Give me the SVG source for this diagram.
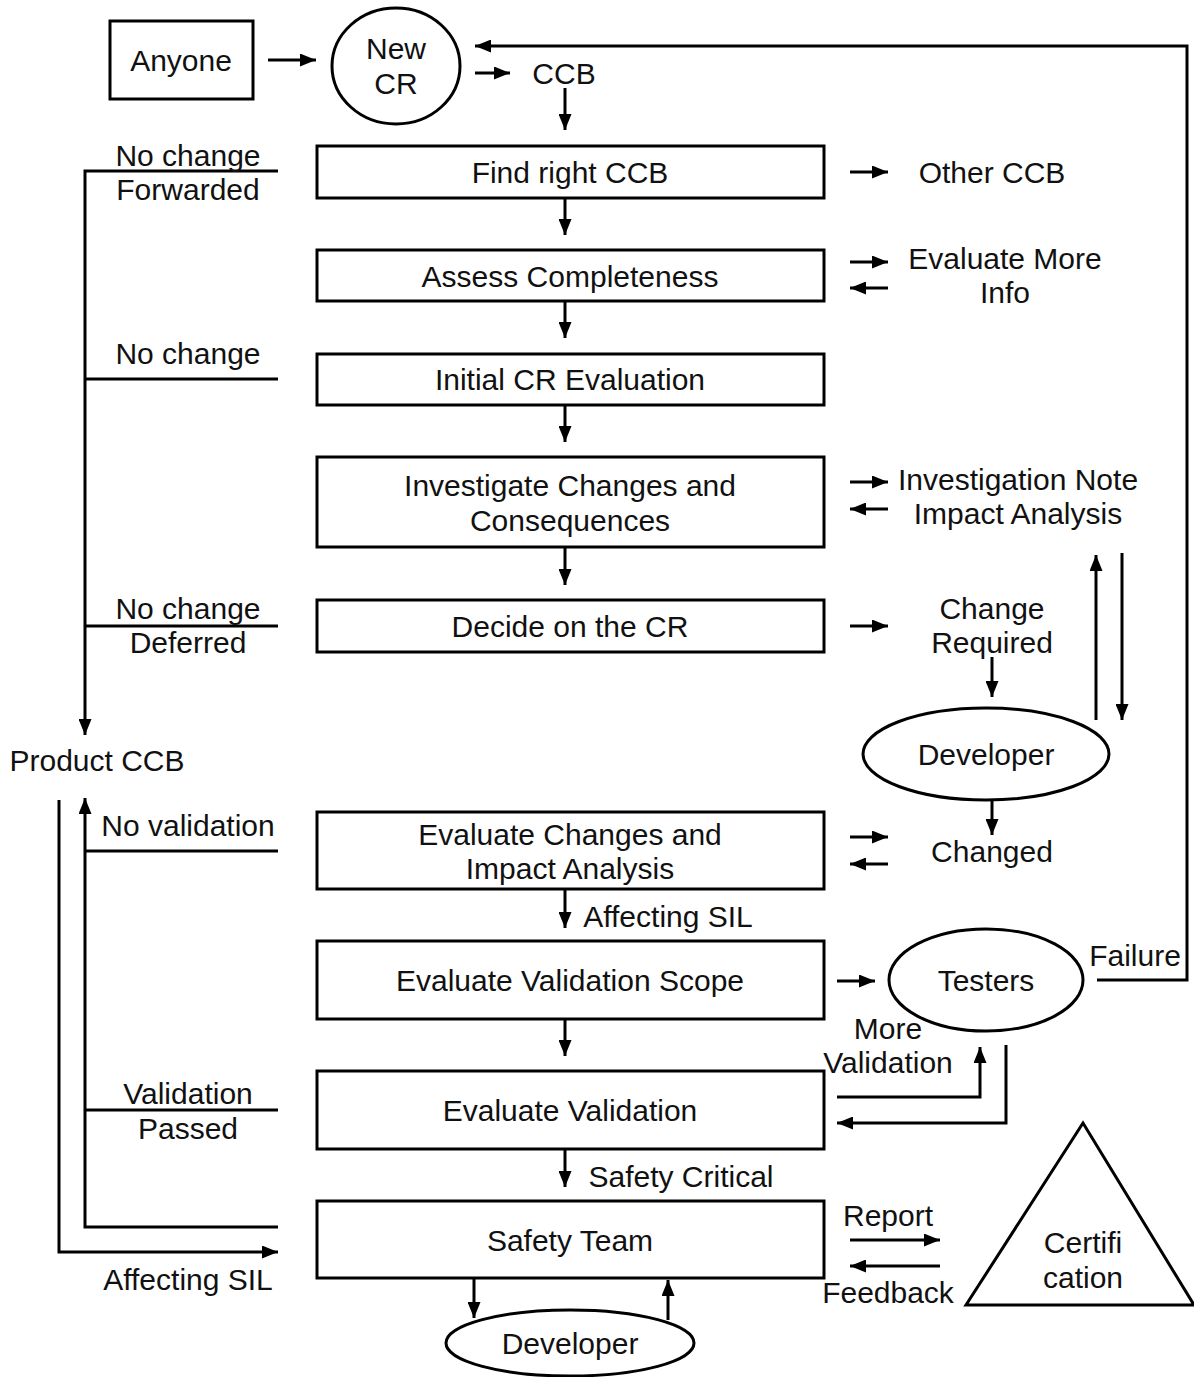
<svg xmlns="http://www.w3.org/2000/svg" width="1194" height="1377" viewBox="0 0 1194 1377">
<style>
.n{fill:#fff;stroke:#000;stroke-width:3}
.c{fill:none;stroke:#000;stroke-width:3}
text{font-family:"Liberation Sans",Arial,sans-serif;font-size:30px;fill:#111;text-anchor:middle;dominant-baseline:central}
</style>
<defs>
<marker id="a" viewBox="0 0 16 13" refX="16" refY="6.5" markerWidth="16" markerHeight="13" markerUnits="userSpaceOnUse" orient="auto">
<path d="M0,0L16,6.5L0,13z" fill="#000"/>
</marker>
</defs>
<rect width="1194" height="1377" fill="#fff"/>
<g id="anyone"><rect class="n" x="110" y="21" width="143" height="78"/><text x="181" y="60">Anyone</text></g>
<g id="newcr"><ellipse class="n" cx="396" cy="66" rx="64" ry="58"/><text x="396" y="48">New</text><text x="396" y="83">CR</text></g>
<g id="ccb"><text x="564" y="73">CCB</text></g>
<g id="findccb"><rect class="n" x="317" y="146" width="507" height="52"/><text x="570" y="172">Find right CCB</text></g>
<g id="assess"><rect class="n" x="317" y="250" width="507" height="51"/><text x="570" y="276">Assess Completeness</text></g>
<g id="initial"><rect class="n" x="317" y="354" width="507" height="51"/><text x="570" y="379">Initial CR Evaluation</text></g>
<g id="investigate"><rect class="n" x="317" y="457" width="507" height="90"/><text x="570" y="485">Investigate Changes and</text><text x="570" y="520">Consequences</text></g>
<g id="decide"><rect class="n" x="317" y="600" width="507" height="52"/><text x="570" y="626">Decide on the CR</text></g>
<g id="evalchanges"><rect class="n" x="317" y="812" width="507" height="77"/><text x="570" y="834">Evaluate Changes and</text><text x="570" y="868">Impact Analysis</text></g>
<g id="evalscope"><rect class="n" x="317" y="941" width="507" height="78"/><text x="570" y="980">Evaluate Validation Scope</text></g>
<g id="evalvalid"><rect class="n" x="317" y="1071" width="507" height="78"/><text x="570" y="1110">Evaluate Validation</text></g>
<g id="safety"><rect class="n" x="317" y="1201" width="507" height="77"/><text x="570" y="1240">Safety Team</text></g>
<g id="otherccb"><text x="992" y="172">Other CCB</text></g>
<g id="evalmore"><text x="1005" y="258">Evaluate More</text><text x="1005" y="292">Info</text></g>
<g id="invnote"><text x="1018" y="479">Investigation Note</text><text x="1018" y="513">Impact Analysis</text></g>
<g id="changereq"><text x="992" y="608">Change</text><text x="992" y="642">Required</text></g>
<g id="developer1"><ellipse class="n" cx="986" cy="754" rx="123" ry="46"/><text x="986" y="754">Developer</text></g>
<g id="changed"><text x="992" y="851">Changed</text></g>
<g id="testers"><ellipse class="n" cx="986" cy="980" rx="97" ry="51"/><text x="986" y="980">Testers</text></g>
<g id="certification"><polygon class="n" points="1083,1123 966,1305 1194,1305"/><text x="1083" y="1242">Certifi</text><text x="1083" y="1277">cation</text></g>
<g id="developer2"><ellipse class="n" cx="570" cy="1343" rx="124" ry="33"/><text x="570" y="1343">Developer</text></g>
<g id="productccb"><text x="97" y="760">Product CCB</text></g>
<g id="connectors">
<path class="c" d="M268,60H316" marker-end="url(#a)"/>
<path class="c" d="M475,73H510" marker-end="url(#a)"/>
<path class="c" d="M565,88V130" marker-end="url(#a)"/>
<path class="c" d="M1097,980H1187V46H475" marker-end="url(#a)"/>
<text x="1135" y="955">Failure</text>
<path class="c" d="M565,198V235" marker-end="url(#a)"/>
<path class="c" d="M565,301V338" marker-end="url(#a)"/>
<path class="c" d="M565,405V442" marker-end="url(#a)"/>
<path class="c" d="M565,547V585" marker-end="url(#a)"/>
<path class="c" d="M565,889V928" marker-end="url(#a)"/>
<text x="668" y="916">Affecting SIL</text>
<path class="c" d="M565,1019V1056" marker-end="url(#a)"/>
<path class="c" d="M565,1149V1187" marker-end="url(#a)"/>
<text x="681" y="1176">Safety Critical</text>
<path class="c" d="M850,172H888" marker-end="url(#a)"/>
<path class="c" d="M850,262H888" marker-end="url(#a)"/>
<path class="c" d="M888,288H850" marker-end="url(#a)"/>
<path class="c" d="M850,482H888" marker-end="url(#a)"/>
<path class="c" d="M888,509H850" marker-end="url(#a)"/>
<path class="c" d="M850,626H888" marker-end="url(#a)"/>
<path class="c" d="M992,657V697" marker-end="url(#a)"/>
<path class="c" d="M1096,720V555" marker-end="url(#a)"/>
<path class="c" d="M1122,553V720" marker-end="url(#a)"/>
<path class="c" d="M992,800V835" marker-end="url(#a)"/>
<path class="c" d="M850,837H888" marker-end="url(#a)"/>
<path class="c" d="M888,864H850" marker-end="url(#a)"/>
<path class="c" d="M837,981H875" marker-end="url(#a)"/>
<text x="888" y="1028">More</text>
<text x="888" y="1062">Validation</text>
<path class="c" d="M837,1097H980V1047" marker-end="url(#a)"/>
<path class="c" d="M1006,1045V1123H837" marker-end="url(#a)"/>
<text x="888" y="1215">Report</text>
<path class="c" d="M850,1240H940" marker-end="url(#a)"/>
<path class="c" d="M940,1266H850" marker-end="url(#a)"/>
<text x="888" y="1292">Feedback</text>
<path class="c" d="M474,1278V1318" marker-end="url(#a)"/>
<path class="c" d="M668,1320V1280" marker-end="url(#a)"/>
<path class="c" d="M278,171H85V735" marker-end="url(#a)"/>
<path class="c" d="M278,379H85"/>
<path class="c" d="M278,626H85"/>
<text x="188" y="155">No change</text>
<text x="188" y="189">Forwarded</text>
<text x="188" y="353">No change</text>
<text x="188" y="608">No change</text>
<text x="188" y="642">Deferred</text>
<path class="c" d="M278,1227H85V798" marker-end="url(#a)"/>
<path class="c" d="M278,851H85"/>
<path class="c" d="M278,1110H85"/>
<text x="188" y="825">No validation</text>
<text x="188" y="1093">Validation</text>
<text x="188" y="1128">Passed</text>
<path class="c" d="M59,800V1252H278" marker-end="url(#a)"/>
<text x="188" y="1279">Affecting SIL</text>
</g>
</svg>
